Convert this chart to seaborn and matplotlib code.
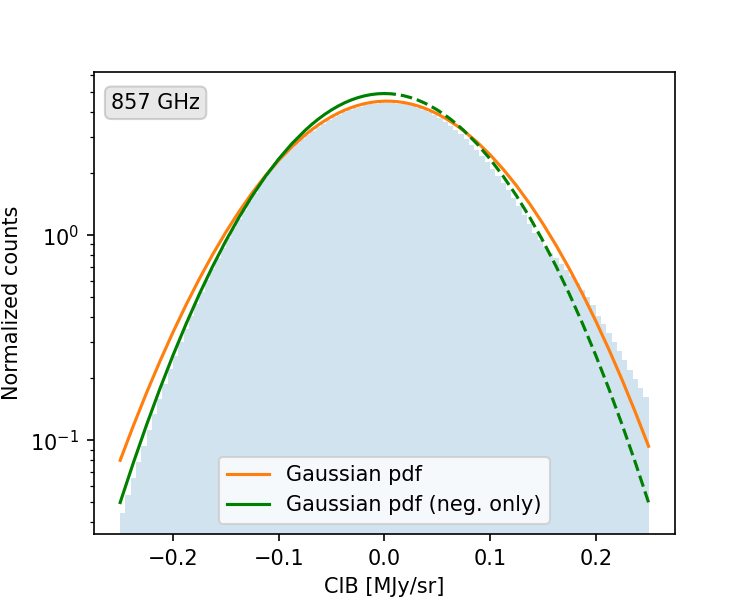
import matplotlib

matplotlib.use("Agg")
import matplotlib.pyplot as plt
import numpy as np
import pandas as pd
import seaborn as sns

# Normalized histogram of CIB pixel values (100 bins on [-0.25, 0.25])
hist_lo, hist_hi, n_bins = -0.25, 0.25, 100
hist_counts = [
    0.0442, 0.0539, 0.0651, 0.0785, 0.0942, 0.1127, 0.1343, 0.1595, 0.1882, 0.2213,
    0.2588, 0.3013, 0.3488, 0.4023, 0.4625, 0.5284, 0.6012, 0.6818, 0.7707, 0.8677,
    0.971, 1.082, 1.202, 1.330, 1.467, 1.612, 1.765, 1.925, 2.092, 2.255,
    2.40, 2.54, 2.68, 2.81, 2.95, 3.09, 3.23, 3.37, 3.50, 3.63,
    3.75, 3.87, 3.97, 4.07, 4.15, 4.23, 4.29, 4.34, 4.38, 4.40,
    4.40, 4.39, 4.37, 4.34, 4.29, 4.24, 4.17, 4.09, 3.99, 3.86,
    3.72, 3.57, 3.42, 3.26, 3.10, 2.93, 2.76, 2.60, 2.43, 2.26,
    2.10, 1.95, 1.80, 1.65, 1.51, 1.38, 1.25, 1.135, 1.029, 0.947,
    0.878, 0.820, 0.772, 0.725, 0.678, 0.631, 0.586, 0.541, 0.499, 0.455,
    0.405, 0.367, 0.332, 0.300, 0.271, 0.245, 0.219, 0.198, 0.179, 0.162,
]

# Gaussian fits sampled along the CIB axis (denser near the peak)
curve_x = [
    -0.25, -0.2375, -0.225, -0.2125, -0.2, -0.1875, -0.175, -0.1625, -0.15,
    -0.1375, -0.125, -0.1125, -0.1, -0.0875,
    -0.075, -0.06875, -0.0625, -0.05625, -0.05, -0.04375, -0.0375, -0.03125,
    -0.025, -0.01875, -0.0125, -0.00625, 0.0, 0.00625, 0.0125, 0.01875, 0.025,
    0.03125, 0.0375, 0.04375, 0.05, 0.05625, 0.0625, 0.06875, 0.075,
    0.0875, 0.1, 0.1125, 0.125, 0.1375, 0.15, 0.1625, 0.175, 0.1875, 0.2,
    0.2125, 0.225, 0.2375, 0.25,
]
gauss_all = [
    0.0798, 0.1178, 0.1705, 0.2418, 0.3364, 0.4587, 0.6134, 0.8042, 1.0337,
    1.3026, 1.6095, 1.9495, 2.3153, 2.6960,
    3.0776, 3.2639, 3.4448, 3.6174, 3.7801, 3.9305, 4.0669, 4.1872,
    4.2899, 4.3733, 4.4364, 4.4783, 4.4982, 4.4960, 4.4716, 4.4255, 4.3582,
    4.2708, 4.1645, 4.0409, 3.9015, 3.7485, 3.5836, 3.4092, 3.2270,
    2.8495, 2.4665, 2.0933, 1.7418, 1.4210, 1.1366, 0.8913, 0.6852, 0.5164, 0.3816,
    0.2766, 0.1966, 0.1368, 0.0934,
]
gauss_neg = [
    0.0497, 0.0777, 0.1189, 0.1777, 0.2595, 0.3703, 0.5166, 0.704, 0.938,
    1.222, 1.555, 1.934, 2.350, 2.792,
    3.241, 3.463, 3.678, 3.884, 4.078, 4.257, 4.419, 4.561,
    4.680, 4.775, 4.844, 4.886, 4.9, 4.886, 4.844, 4.775, 4.680,
    4.561, 4.419, 4.257, 4.078, 3.884, 3.678, 3.463, 3.241,
    2.792, 2.350, 1.934, 1.555, 1.222, 0.938, 0.704, 0.5166, 0.3703, 0.2595,
    0.1777, 0.1189, 0.0777, 0.0497,
]

band_label = "857 GHz"


def main() -> None:
    step = (hist_hi - hist_lo) / n_bins
    centers = hist_lo + step * (np.arange(n_bins) + 0.5)
    hist_df = pd.DataFrame({"cib": centers, "w": hist_counts})

    curves = pd.DataFrame({"x": curve_x, "all": gauss_all, "neg": gauss_neg})
    left = curves[curves["x"] <= 0]
    right = curves[curves["x"] >= 0]

    fig, ax = plt.subplots(figsize=(5, 4), dpi=150)

    sns.histplot(data=hist_df, x="cib", weights="w", bins=n_bins,
                 binrange=(hist_lo, hist_hi), ax=ax, color="tab:blue",
                 alpha=0.2, linewidth=0)
    sns.lineplot(data=curves, x="x", y="all", ax=ax, color="C1",
                 label="Gaussian pdf")
    sns.lineplot(data=left, x="x", y="neg", ax=ax, color="green",
                 label="Gaussian pdf (neg. only)")
    sns.lineplot(data=right, x="x", y="neg", ax=ax, color="green",
                 linestyle="--")

    ax.set_yscale("log")
    ax.set_xlim(-0.275, 0.275)
    ax.set_ylim(0.0349, 6.24)
    ax.set_xlabel("CIB [MJy/sr]")
    ax.set_ylabel("Normalized counts")

    ax.text(0.03, 0.955, band_label, transform=ax.transAxes, ha="left", va="top",
            bbox=dict(boxstyle="round", facecolor="lightgray", edgecolor="darkgray", alpha=0.5))

    handles, labels = ax.get_legend_handles_labels()
    keep = [(h, l) for h, l in zip(handles, labels) if l.startswith("Gaussian")]
    ax.legend([h for h, _ in keep], [l for _, l in keep], loc="lower center")

    fig.savefig("out.png", dpi=150)
    plt.close(fig)


if __name__ == "__main__":
    main()
